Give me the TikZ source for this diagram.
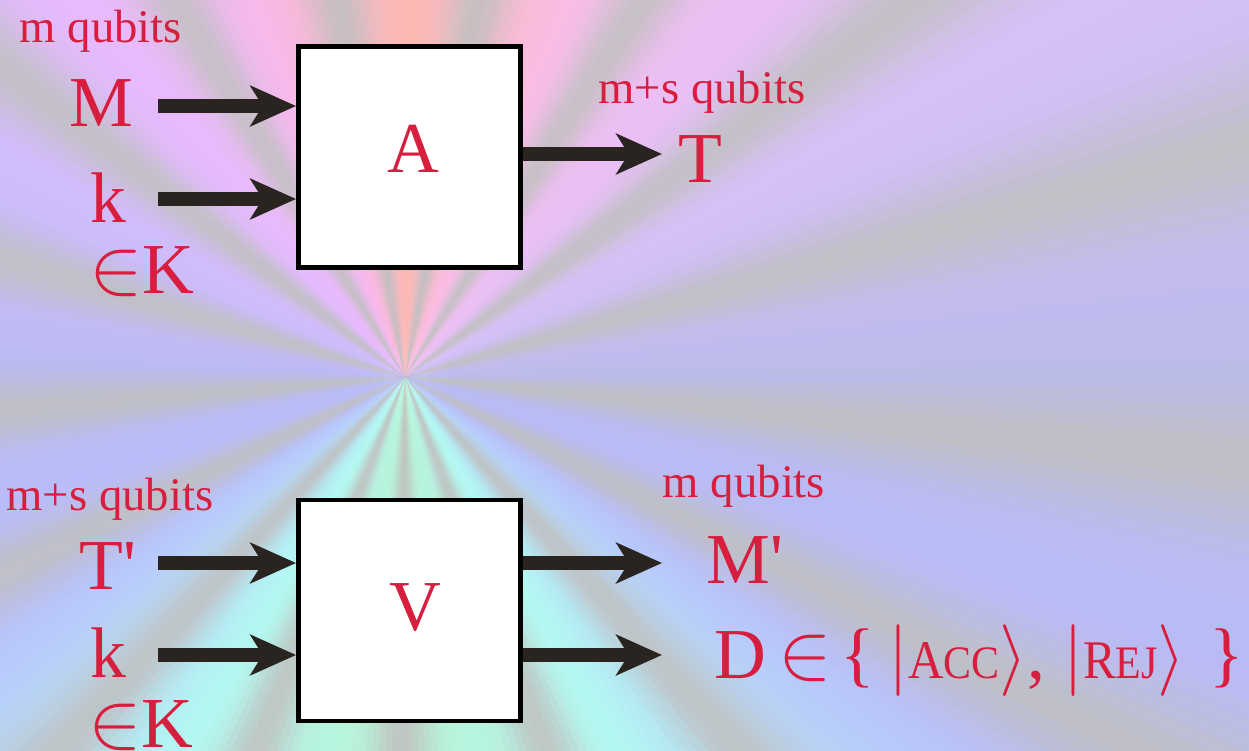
\RequirePackage{fix-cm}
\documentclass[tikz,border=0pt]{standalone}
\usepackage{fontspec}
\setmainfont{Liberation Serif}
\usetikzlibrary{arrows.meta}
\definecolor{textred}{RGB}{216,30,62}
\definecolor{arrowdark}{RGB}{42,36,33}
\definecolor{raygray}{RGB}{192,192,192}
% Farben fuer den Strahlenhintergrund (alle 30 Grad, im Uhrzeigersinn ab rechts)
\definecolor{bg0}{RGB}{186,186,235}
\definecolor{bg1}{RGB}{185,188,252}
\definecolor{bg2}{RGB}{180,248,242}
\definecolor{bg3}{RGB}{185,242,210}
\definecolor{bg4}{RGB}{180,248,242}
\definecolor{bg5}{RGB}{185,190,252}
\definecolor{bg6}{RGB}{186,186,242}
\definecolor{bg7}{RGB}{210,188,252}
\definecolor{bg8}{RGB}{245,185,252}
\definecolor{bg9}{RGB}{252,185,178}
\definecolor{bg10}{RGB}{248,190,242}
\definecolor{bg11}{RGB}{215,192,248}
\definecolor{bg12}{RGB}{186,186,235}
\newcommand{\kleinfont}{\fontsize{26.6pt}{30pt}\selectfont}
\newcommand{\grossfont}{\fontsize{40.8pt}{46pt}\selectfont}
\newcommand{\kapit}[2]{\scalebox{0.9}[1]{{\fontsize{31pt}{34pt}\selectfont #1}{\fontsize{26.5pt}{30pt}\selectfont #2}}}
\newcommand{\elem}{\scalebox{1.12}{$\in$}}

\begin{document}
\begin{tikzpicture}[x=0.02cm, y=-0.02cm,
		>={Stealth[length=26pt,width=23pt,inset=7pt]},   %Pfeilspitzen
		pfeil/.style={->, line width=8pt, arrowdark},
		kasten/.style={draw, fill=white, line width=2.8pt, minimum width=4.44cm, minimum height=4.42cm},
		gross/.style={text=textred, font=\grossfont, inner sep=0pt, anchor=base},
		klein/.style={text=textred, font=\kleinfont, inner sep=0pt, anchor=base}]
		\useasboundingbox (0,0) rectangle (1249,751);
		%Hintergrund mit Strahlen
		\begin{scope}
			\clip (0,0) rectangle (1249,751);
			\coordinate (mitte) at (405,377);
			\foreach \a in {0,...,359} {
				\pgfmathtruncatemacro\k{floor(\a/30)}
				\pgfmathtruncatemacro\kk{\k+1}
				\pgfmathsetmacro\t{100-100*(\a-30*\k)/30}
				\pgfmathsetmacro\w{100-85*((1-cos(17*(\a-270)))/2)^2}
				\fill[bg\k!\t!bg\kk!\w!raygray] (mitte) -- +(\a:1000) -- +({\a+1.5}:1000) -- cycle;
			}
		\end{scope}
		% Kasten A
		\node[kasten] (boxA) at (409.5,157) {};
		\node[gross] (A) at (413,172) {A};
		\node[klein] (lblM) at (101,42) {m qubits};
		\node[gross] (M) at (101,126) {M};
		\node[gross] (k1) at (108,222) {k};
		\node[gross] (K1) at (142,293) {\elem K};
		\node[klein] (lblT) at (702,103) {m+s qubits};
		\node[gross] (T) at (700,182) {T};
		\coordinate (inM) at (158,106);
		\coordinate (ink1) at (158,199);
		\coordinate (outT) at (662,154);
		\draw[pfeil] (inM) -- (inM -| boxA.west);
		\draw[pfeil] (ink1) -- (ink1 -| boxA.west);
		\draw[pfeil] (boxA.east |- outT) -- (outT);
		% Kasten V
		\node[kasten] (boxV) at (409.5,610.5) {};
		\node[gross] (V) at (415,630) {V};
		\node[klein] (lblTs) at (110,510) {m+s qubits};
		\node[gross] (Ts) at (108,589) {T\textquotesingle};
		\node[gross] (k2) at (108,677) {k};
		\node[gross] (K2) at (141,747) {\elem K};
		\node[klein] (lblMs) at (744,497) {m qubits};
		\node[gross, anchor=base west] (Ms) at (706,583) {M\textquotesingle};
		\node[gross, anchor=base west] (D) at (714,678)
			{D\hspace{0.17em}\elem\hspace{0.12em}\{\hspace{0.19em}$|$\kapit{A}{CC}$\rangle$, $|$\kapit{R}{EJ}$\rangle$\hspace{0.33em}\}};
		\coordinate (inTs) at (158,563);
		\coordinate (ink2) at (158,655);
		\coordinate (outMs) at (662,563);
		\coordinate (outD) at (662,655);
		\draw[pfeil] (inTs) -- (inTs -| boxV.west);
		\draw[pfeil] (ink2) -- (ink2 -| boxV.west);
		\draw[pfeil] (boxV.east |- outMs) -- (outMs);
		\draw[pfeil] (boxV.east |- outD) -- (outD);
	\end{tikzpicture}
\end{document}
